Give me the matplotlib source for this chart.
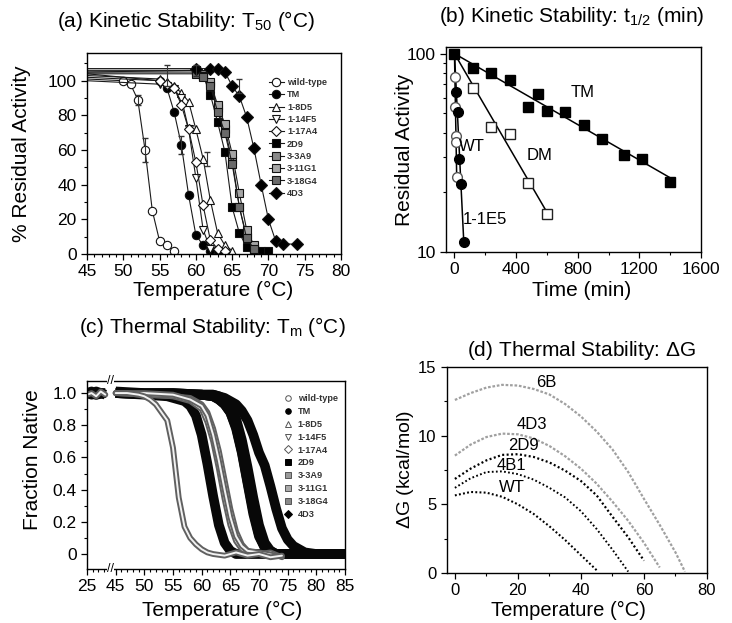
import numpy as np
import matplotlib.pyplot as plt
from matplotlib.lines import Line2D
from matplotlib.ticker import MultipleLocator, FixedLocator, NullFormatter
import matplotlib.transforms as mtransforms

plt.rcParams['font.family'] = ['Liberation Sans', 'DejaVu Sans']
plt.rcParams['mathtext.fontset'] = 'custom'
plt.rcParams['mathtext.rm'] = 'Liberation Sans'
plt.rcParams['mathtext.it'] = 'Liberation Sans:italic'
plt.rcParams['xtick.direction'] = 'out'
plt.rcParams['ytick.direction'] = 'out'
plt.rcParams['axes.linewidth'] = 1.0

# ---- (a) kinetic stability T50: % residual activity vs temperature ----
a_names = ['wild-type', 'TM', '1-8D5', '1-14F5', '1-17A4', '2D9', '3-3A9', '3-11G1', '3-18G4', '4D3']
a_temp = {
    'wild-type': [45, 50, 51, 52, 53, 54, 55, 56, 57],
    'TM': [45, 55, 56, 57, 58, 59, 60, 61, 62, 63],
    '1-8D5': [45, 55, 56, 57, 58, 59, 60, 61, 62, 63, 64, 65],
    '1-14F5': [45, 55, 56, 57, 58, 59, 60, 61, 62, 63],
    '1-17A4': [45, 55, 56, 57, 58, 59, 60, 61, 62, 63, 64],
    '2D9': [45, 60, 61, 62, 63, 64, 65, 66, 67, 68, 69, 70],
    '3-3A9': [45, 60, 61, 62, 63, 64, 65, 66, 67, 68],
    '3-11G1': [45, 60, 61, 62, 63, 64, 65, 66, 67, 68],
    '3-18G4': [45, 60, 61, 62, 63, 64, 65, 66, 67, 68],
    '4D3': [45, 60, 62, 63, 64, 65, 66, 67, 68, 69, 70, 71, 72, 74],
}
a_act = {
    'wild-type': [101, 100, 98, 89, 60, 25, 7.5, 5, 2],
    'TM': [104, 100, 96, 82, 63, 34, 11, 5, 2, 2],
    '1-8D5': [103, 101, 99, 97, 93, 88, 72, 55, 31, 12, 5, 2],
    '1-14F5': [100, 98, 97, 95, 90, 72, 44, 14, 3, 2],
    '1-17A4': [102, 100, 98, 96, 86, 72, 53, 28, 8, 3, 2],
    '2D9': [105, 106, 103, 92, 76, 59, 27, 12, 4, 3, 2, 2],
    '3-3A9': [106, 106, 104, 98, 84, 72, 54, 27, 10, 3],
    '3-11G1': [105, 105, 103, 99, 86, 75, 58, 35, 14, 5],
    '3-18G4': [104, 104, 102, 97, 82, 70, 52, 27, 9, 3],
    '4D3': [107, 107, 107, 107, 105, 97, 91, 79, 61, 40, 20, 7.5, 6, 5.5],
}
a_err_t = [53, 58, 56, 60, 66, 61.6, 52]
a_err_y = [60, 63, 103, 106, 97, 55, 89]
a_err_v = [7, 5, 6, 3, 4, 4, 3]

# ---- (b) kinetic stability t1/2: residual activity vs time ----
b_tm_t = [0, 120, 240, 360, 480, 540, 600, 720, 840, 960, 1100, 1220, 1400]
b_tm_y = [100, 85, 79.5, 74, 54, 62.5, 51.6, 51, 43.7, 37, 31, 29.6, 22.6]
b_dm_t = [0, 120, 240, 360, 480, 600]
b_dm_y = [100, 67, 42.6, 39.3, 22.2, 15.5]
b_wt_t = [0, 3, 6, 9, 10, 15]
b_wt_y = [100, 76, 54, 38.5, 36, 24]
b_e5_t = [0, 10, 20, 30, 45, 60]
b_e5_y = [100, 64, 51, 29.6, 21.9, 11.2]

# ---- (c) thermal stability Tm: fraction native vs temperature ----
c_temp = {
    'wild-type': [25, 29, 33, 37, 41, 45, 47, 49, 50, 51, 52, 53, 54, 55, 56, 57, 58, 59, 60, 61, 62, 64, 66, 68, 70, 72, 74],
    'TM': [25, 29, 33, 37, 41, 45, 50, 54, 56, 57, 58, 59, 60, 61, 62, 63, 64, 65, 66, 68, 70, 75, 80, 85],
    '1-8D5': [45, 50, 55, 58, 60, 61, 62, 63, 64, 65, 66, 67, 68, 70, 72, 74],
    '1-14F5': [45, 50, 55, 58, 60, 61, 62, 63, 64, 65, 66, 67, 68, 70, 72],
    '1-17A4': [45, 50, 55, 58, 60, 61, 62, 63, 64, 65, 66, 67, 68, 70, 73],
    '2D9': [25, 33, 41, 45, 55, 60, 62, 63, 64, 65, 66, 67, 68, 69, 70, 71, 72, 73, 76, 80, 85],
    '3-3A9': [45, 55, 60, 62, 63, 64, 65, 66, 67, 68, 69, 70, 71, 72, 73, 76, 80, 85],
    '3-11G1': [45, 55, 60, 62, 63, 64, 65, 66, 67, 68, 69, 70, 71, 72, 73, 76, 80, 85],
    '3-18G4': [45, 55, 60, 62, 63, 64, 65, 66, 67, 68, 69, 70, 71, 72, 73, 76, 80, 85],
    '4D3': [25, 29, 33, 37, 41, 45, 50, 55, 60, 62, 64, 66, 67, 68, 69, 70, 71, 72, 73, 74, 75, 76, 77, 78, 80, 82, 85],
}
c_frac = {
    'wild-type': [0.99, 1.0, 0.98, 1.01, 0.99, 1.0, 1.0, 0.99, 0.98, 0.96, 0.93, 0.88, 0.83, 0.66, 0.35, 0.17, 0.10, 0.06, 0.03, 0.01, 0.0, -0.01, 0.01, -0.01, 0.0, -0.02, -0.01],
    'TM': [1.0, 0.99, 1.01, 1.0, 0.99, 1.0, 0.99, 0.98, 0.96, 0.95, 0.92, 0.86, 0.74, 0.56, 0.36, 0.18, 0.07, 0.02, 0.0, 0.0, 0.0, 0.0, 0.0, 0.0],
    '1-8D5': [1.0, 0.99, 0.98, 0.97, 0.93, 0.88, 0.78, 0.64, 0.46, 0.28, 0.14, 0.06, 0.02, 0.0, 0.01, -0.02],
    '1-14F5': [1.0, 0.99, 0.98, 0.95, 0.90, 0.82, 0.70, 0.53, 0.34, 0.18, 0.08, 0.03, 0.01, 0.0, -0.01],
    '1-17A4': [1.0, 1.0, 0.99, 0.96, 0.92, 0.86, 0.74, 0.58, 0.40, 0.23, 0.11, 0.05, 0.02, 0.01, -0.01],
    '2D9': [1.0, 0.99, 1.0, 1.0, 0.99, 0.99, 0.98, 0.96, 0.93, 0.88, 0.78, 0.63, 0.44, 0.25, 0.11, 0.04, 0.01, 0.0, 0.0, 0.0, 0.0],
    '3-3A9': [1.0, 0.99, 0.99, 0.98, 0.97, 0.94, 0.90, 0.81, 0.67, 0.49, 0.30, 0.14, 0.05, 0.02, 0.0, 0.0, 0.0, 0.0],
    '3-11G1': [1.0, 1.0, 0.99, 0.99, 0.98, 0.96, 0.92, 0.84, 0.71, 0.54, 0.35, 0.18, 0.07, 0.02, 0.0, 0.0, 0.0, 0.0],
    '3-18G4': [1.0, 0.99, 0.99, 0.98, 0.96, 0.93, 0.88, 0.79, 0.64, 0.45, 0.27, 0.12, 0.04, 0.01, 0.0, 0.0, 0.0, 0.0],
    '4D3': [1.0, 1.01, 0.99, 1.0, 1.0, 1.01, 1.0, 1.0, 0.99, 0.99, 0.97, 0.93, 0.89, 0.83, 0.74, 0.63, 0.55, 0.42, 0.28, 0.16, 0.09, 0.05, 0.03, 0.01, 0.0, 0.0, 0.0],
}

# ---- (d) thermal stability dG vs temperature ----
d_temp = [0, 5, 10, 15, 20, 25, 30, 35, 40, 45, 50, 55, 60, 65, 70]
d_6b = [12.6, 13.1, 13.5, 13.7, 13.65, 13.4, 13.0, 12.3, 11.4, 10.3, 9.0, 7.35, 5.4, 3.5, 1.5]
d_6b_end = (73, 0.1)
d_4d3 = [8.55, 9.35, 9.9, 10.15, 10.1, 9.8, 9.25, 8.5, 7.6, 6.5, 5.2, 3.8, 2.2, 0.4]
d_2d9 = [6.85, 7.6, 8.2, 8.6, 8.65, 8.45, 8.05, 7.45, 6.7, 5.65, 4.1, 2.6, 0.9]
d_4b1 = [6.2, 6.9, 7.35, 7.4, 7.2, 6.8, 6.2, 5.5, 4.5, 3.2, 1.7, 0.1]
d_wt = [5.65, 5.9, 5.85, 5.55, 5.0, 4.3, 3.4, 2.4, 1.3, 0.2]

W, H = 732, 623
fig = plt.figure(figsize=(W / 100, H / 100), dpi=100)


def box(l, r, t, b):
    return [l / W, 1 - b / H, (r - l) / W, (b - t) / H]


# ================= (a) =================
ax = fig.add_axes(box(87, 341, 53, 254))
styles_a = {
    'wild-type': ('o', 'white', 6),
    'TM': ('o', 'black', 6),
    '1-8D5': ('^', 'white', 6),
    '1-14F5': ('v', 'white', 6),
    '1-17A4': ('D', 'white', 5),
    '2D9': ('s', 'black', 5.5),
    '3-3A9': ('s', '#8a8a8a', 5.5),
    '3-11G1': ('s', '#a5a5a5', 5.5),
    '3-18G4': ('s', '#6a6a6a', 5.5),
    '4D3': ('D', 'black', 6),
}
for name in a_names:
    mk, fc, ms = styles_a[name]
    ax.plot(a_temp[name], a_act[name], color='#1a1a1a', lw=0.8, marker=mk, mfc=fc,
            mec='#111111', mew=0.8, ms=ms, markevery=slice(1, None), label=name)
ax.errorbar(a_err_t, a_err_y, yerr=a_err_v, fmt='none', ecolor='#333333', elinewidth=0.8, capsize=2)
ax.set_xlim(45, 80)
ax.set_ylim(0, 116)
ax.xaxis.set_major_locator(MultipleLocator(5))
ax.xaxis.set_minor_locator(MultipleLocator(1))
ax.yaxis.set_major_locator(FixedLocator([0, 20, 40, 60, 80, 100]))
ax.yaxis.set_minor_locator(FixedLocator([10, 30, 50, 70, 90, 110]))
ax.tick_params(labelsize=12.5, length=4, width=0.9)
ax.tick_params(which='minor', length=2, width=0.8)
leg = ax.legend(loc='upper left', bbox_to_anchor=(0.715, 0.875), frameon=False, fontsize=6.6,
                handlelength=1.7, handletextpad=0.3, labelspacing=0.36, borderaxespad=0, borderpad=0)
for t in leg.get_texts():
    t.set_fontweight('bold')
    t.set_color('#333333')
fig.text(186 / W, 1 - 21 / H, r'(a) Kinetic Stability: T$_\mathrm{50}$ (°C)', ha='center', va='center', fontsize=15)
fig.text(213 / W, 1 - 290 / H, 'Temperature (°C)', ha='center', va='center', fontsize=15)
fig.text(22 / W, 1 - 154 / H, '% Residual Activity', ha='center', va='center', rotation=90, fontsize=15)

# ================= (b) =================
ax = fig.add_axes(box(446, 701, 47, 252))
ax.set_yscale('log')


def fit_line(t, y):
    t = np.asarray(t, float)
    k = np.sum(t * np.log(np.asarray(y) / 100.0)) / np.sum(t * t)
    tt = np.linspace(0, t.max(), 50)
    return tt, 100 * np.exp(k * tt)


for t, y in [(b_tm_t, b_tm_y), (b_dm_t, b_dm_y), (b_wt_t, b_wt_y), (b_e5_t, b_e5_y)]:
    ax.plot(*fit_line(t, y), color='black', lw=1.1)
ax.plot(b_dm_t[1:], b_dm_y[1:], ls='none', marker='s', mfc='white', mec='#222222', mew=1.0, ms=6.5)
ax.plot(b_wt_t[1:], b_wt_y[1:], ls='none', marker='o', mfc='white', mec='#555555', mew=1.0, ms=7)
ax.plot(b_e5_t[1:], b_e5_y[1:], ls='none', marker='o', color='black', ms=7)
ax.plot(b_tm_t, b_tm_y, ls='none', marker='s', color='black', ms=7)
ax.set_xlim(-55, 1600)
ax.set_ylim(10, 108)
ax.set_xticks([0, 400, 800, 1200, 1600])
ax.xaxis.set_minor_locator(MultipleLocator(200))
ax.set_yticks([10, 100])
ax.set_yticklabels(['10', '100'])
ax.yaxis.set_minor_locator(FixedLocator([20, 30, 40, 50, 60, 70, 80, 90]))
ax.yaxis.set_minor_formatter(NullFormatter())
ax.tick_params(labelsize=12.5, length=4, width=0.9)
ax.tick_params(which='minor', length=2, width=0.8)
ax.text(834, 64, 'TM', fontsize=12, ha='center', va='center')
ax.text(114, 34, 'WT', fontsize=12, ha='center', va='center')
ax.text(555, 30.8, 'DM', fontsize=12, ha='center', va='center')
ax.text(200, 14.5, '1-1E5', fontsize=12, ha='center', va='center')
fig.text(572 / W, 1 - 17 / H, r'(b) Kinetic Stability: t$_\mathrm{1/2}$ (min)', ha='center', va='center', fontsize=15)
fig.text(582 / W, 1 - 290 / H, 'Time (min)', ha='center', va='center', fontsize=15)
fig.text(405 / W, 1 - 150 / H, 'Residual Activity', ha='center', va='center', rotation=90, fontsize=15)

# ================= (c) =================
ax = fig.add_axes(box(87, 345, 381, 569))


def brk(T):
    T = np.asarray(T, float)
    return np.where(T < 45, 40 + (T - 25) * 0.2, T)


c_open = ['wild-type', '1-8D5', '1-14F5', '1-17A4']
c_order = ['4D3', '2D9', '3-3A9', '3-11G1', '3-18G4', 'TM', '1-8D5', '1-14F5', '1-17A4', 'wild-type']
for name in c_order:
    T = np.asarray(c_temp[name], float)
    F = np.asarray(c_frac[name], float)
    # left of the axis break and right of it are drawn as separate pieces
    for m in (T < 45, T >= 45):
        if m.sum() == 0:
            continue
        x, y = brk(T[m]), F[m]
        if name in c_open:
            ax.plot(x, y, color='#606060', lw=4.2, solid_capstyle='round', solid_joinstyle='round')
            ax.plot(x, y, color='#f2f2f2', lw=1.4, solid_capstyle='round', solid_joinstyle='round')
        else:
            ax.plot(x, y, color='#080808', lw=7, solid_capstyle='butt', solid_joinstyle='round')
ax.set_xlim(40, 85)
ax.set_ylim(-0.093, 1.075)
ax.set_xticks([40, 45, 50, 55, 60, 65, 70, 75, 80, 85])
ax.set_xticklabels(['25', '45', '50', '55', '60', '65', '70', '75', '80', '85'])
ax.xaxis.set_minor_locator(MultipleLocator(1))
ax.set_yticks([0, 0.2, 0.4, 0.6, 0.8, 1.0])
ax.set_yticklabels(['0', '0.2', '0.4', '0.6', '0.8', '1.0'])
ax.yaxis.set_minor_locator(MultipleLocator(0.1))
ax.tick_params(labelsize=12.5, length=4, width=0.9)
ax.tick_params(which='minor', length=2, width=0.8)
blend = mtransforms.blended_transform_factory(ax.transData, ax.transAxes)
for yy in (0.0, 1.0):
    ax.text(44.1, yy, '//', transform=blend, ha='center', va='center', fontsize=9,
            clip_on=False, bbox=dict(fc='white', ec='none', pad=0.2))
c_leg_style = {
    'wild-type': ('o', 'white', '#555555'),
    'TM': ('o', 'black', 'black'),
    '1-8D5': ('^', 'white', '#555555'),
    '1-14F5': ('v', 'white', '#555555'),
    '1-17A4': ('D', 'white', '#555555'),
    '2D9': ('s', 'black', 'black'),
    '3-3A9': ('s', '#999999', '#555555'),
    '3-11G1': ('s', '#aaaaaa', '#555555'),
    '3-18G4': ('s', '#888888', '#555555'),
    '4D3': ('D', 'black', 'black'),
}
handles = [Line2D([], [], ls='none', marker=c_leg_style[n][0], mfc=c_leg_style[n][1],
                  mec=c_leg_style[n][2], ms=4, mew=0.7) for n in a_names]
leg = ax.legend(handles, a_names, loc='upper left', bbox_to_anchor=(0.76, 0.93), frameon=False,
                fontsize=6.6, handlelength=1.0, handletextpad=0.6, labelspacing=0.42,
                borderaxespad=0, borderpad=0)
for t in leg.get_texts():
    t.set_fontweight('bold')
    t.set_color('#333333')
fig.text(212 / W, 1 - 327 / H, r'(c) Thermal Stability: T$_\mathrm{m}$ (°C)', ha='center', va='center', fontsize=15)
fig.text(222 / W, 1 - 610 / H, 'Temperature (°C)', ha='center', va='center', fontsize=15)
fig.text(33 / W, 1 - 460 / H, 'Fraction Native', ha='center', va='center', rotation=90, fontsize=15)

# ================= (d) =================
ax = fig.add_axes(box(447, 707, 367, 573))
ax.plot(d_temp + [d_6b_end[0]], d_6b + [d_6b_end[1]], color='#a0a0a0', lw=1.6, ls=(0, (1.2, 0.8)))
ax.plot(d_temp[:len(d_4d3)], d_4d3, color='#a0a0a0', lw=1.6, ls=(0, (1.2, 0.8)))
ax.plot(d_temp[:len(d_2d9)], d_2d9, color='black', lw=1.6, ls=(0, (0.9, 1.1)))
ax.plot(d_temp[:len(d_4b1)], d_4b1, color='black', lw=1.4, ls=(0, (0.9, 1.2)))
ax.plot(d_temp[:len(d_wt)], d_wt, color='black', lw=1.5, ls=(0, (0.9, 1.1)))
ax.set_xlim(-2.5, 80)
ax.set_ylim(0, 15)
ax.xaxis.set_major_locator(MultipleLocator(20))
ax.xaxis.set_minor_locator(MultipleLocator(10))
ax.yaxis.set_major_locator(MultipleLocator(5))
ax.yaxis.set_minor_locator(MultipleLocator(2.5))
ax.tick_params(labelsize=12, length=4, width=0.9)
ax.tick_params(which='minor', length=2, width=0.8)
for lbl, x, y in [('6B', 29.1, 13.9), ('4D3', 24.3, 10.8), ('2D9', 21.7, 9.3), ('4B1', 18, 7.8), ('WT', 18, 6.2)]:
    ax.text(x, y, lbl, fontsize=12, ha='center', va='center')
fig.text(581 / W, 1 - 350 / H, r'(d) Thermal Stability: $\Delta$G', ha='center', va='center', fontsize=15)
fig.text(568 / W, 1 - 610 / H, 'Temperature (°C)', ha='center', va='center', fontsize=14.5)
fig.text(406 / W, 1 - 470 / H, r'$\Delta$G (kcal/mol)', ha='center', va='center', rotation=90, fontsize=14)

fig.savefig('out.png', dpi=100)
